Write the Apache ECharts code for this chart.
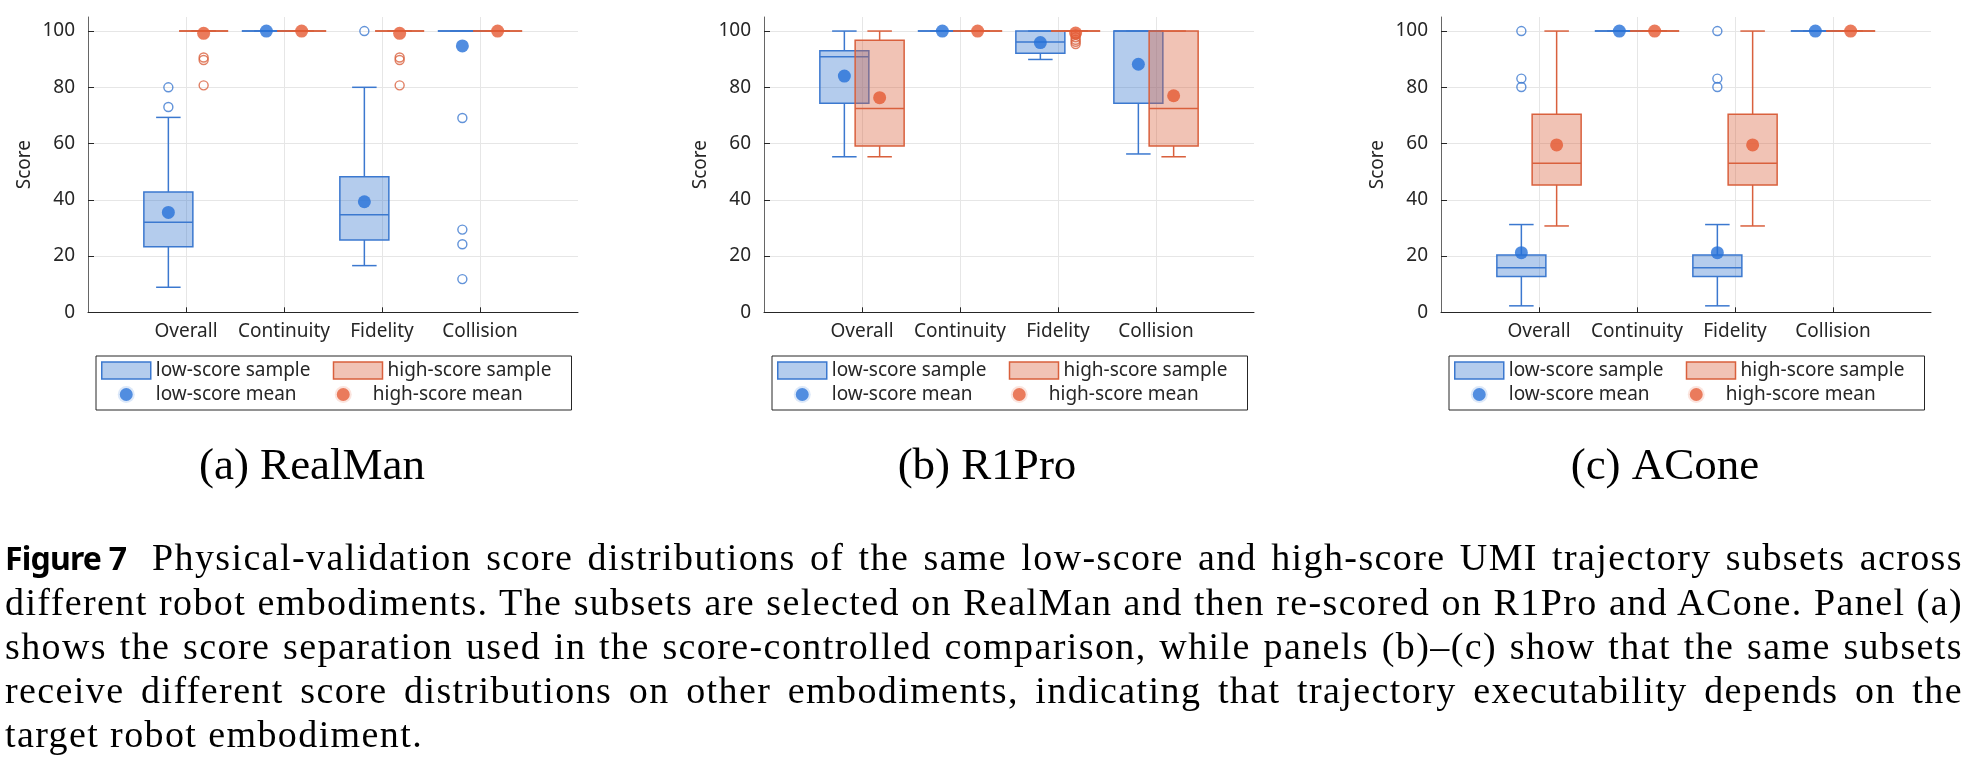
<!DOCTYPE html>
<html>
<head>
<meta charset="utf-8">
<script src="https://cdn.jsdelivr.net/npm/echarts@6/dist/echarts.min.js"></script>
<style>
    html, body { margin: 0; padding: 0; background: #fff; }
    #chart { position: absolute; left: 0; top: 0; width: 1981px; height: 771px; }
    #caption {
        position: absolute; left: 5px; top: 535px; width: 1958px;
        font-family: 'Liberation Serif', serif; font-size: 38px; line-height: 44px;
        letter-spacing: 1.4px; color: #000;
    }
    #caption div { text-align: justify; text-align-last: justify; }
    #caption div.last { text-align-last: left; }
    #caption .fig {
        display: inline-block; width: 147px; letter-spacing: -0.8px; text-align: left; text-align-last: left;
        font-family: 'Noto Sans', sans-serif; font-weight: bold; font-size: 32px;
    }
</style>
</head>
<body>
<div id="chart"></div>
<div id="caption">
    <div><span class="fig">Figure 7</span>Physical-validation score distributions of the same low-score and high-score UMI trajectory subsets across</div>
    <div>different robot embodiments. The subsets are selected on RealMan and then re-scored on R1Pro and ACone. Panel (a)</div>
    <div>shows the score separation used in the score-controlled comparison, while panels (b)–(c) show that the same subsets</div>
    <div>receive different score distributions on other embodiments, indicating that trajectory executability depends on the</div>
    <div class="last">target robot embodiment.</div>
</div>
<script>
var categories = ['Overall', 'Continuity', 'Fidelity', 'Collision'];
var panelNames = ['(a) RealMan', '(b) R1Pro', '(c) ACone'];
var yTicks = [0, 20, 40, 60, 80, 100];

// box stats: [category, lower whisker, Q1, median, Q3, upper whisker]
var realmanLowBox = [[1, 8.9, 23.3, 32.0, 42.8, 69.3], [2, 100, 100, 100, 100, 100], [3, 16.6, 25.7, 34.7, 48.2, 80.0], [4, 100, 100, 100, 100, 100]];
var realmanHighBox = [[1, 100, 100, 100, 100, 100], [2, 100, 100, 100, 100, 100], [3, 100, 100, 100, 100, 100], [4, 100, 100, 100, 100, 100]];
var realmanLowMean = [35.5, 100, 39.3, 94.7];
var realmanHighMean = [99.2, 100, 99.2, 100];
var realmanLowOutliers = [[1, 80.0], [1, 73.0], [3, 100], [4, 69.1], [4, 29.4], [4, 24.2], [4, 11.8]];
var realmanHighOutliers = [[1, 90.6], [1, 89.7], [1, 80.7], [3, 90.6], [3, 89.7], [3, 80.7]];

var r1proLowBox = [[1, 55.3, 74.3, 90.9, 93.0, 100], [2, 100, 100, 100, 100, 100], [3, 89.9, 92.1, 96.1, 100, 100], [4, 56.3, 74.3, 100, 100, 100]];
var r1proHighBox = [[1, 55.3, 59.1, 72.5, 96.7, 100], [2, 100, 100, 100, 100, 100], [3, 100, 100, 100, 100, 100], [4, 55.3, 59.1, 72.5, 100, 100]];
var r1proLowMean = [84.0, 100, 95.9, 88.2];
var r1proHighMean = [76.3, 100, 99.3, 77.0];
var r1proLowOutliers = [];
var r1proHighOutliers = [[3, 98.8], [3, 97.8], [3, 96.9], [3, 96.2], [3, 95.4]];

var aconeLowBox = [[1, 2.3, 12.7, 15.8, 20.4, 31.2], [2, 100, 100, 100, 100, 100], [3, 2.3, 12.7, 15.8, 20.4, 31.2], [4, 100, 100, 100, 100, 100]];
var aconeHighBox = [[1, 30.7, 45.3, 53.0, 70.4, 100], [2, 100, 100, 100, 100, 100], [3, 30.7, 45.3, 53.0, 70.4, 100], [4, 100, 100, 100, 100, 100]];
var aconeLowMean = [21.2, 100, 21.2, 100];
var aconeHighMean = [59.5, 100, 59.5, 100];
var aconeLowOutliers = [[1, 100], [1, 83.1], [1, 80.1], [3, 100], [3, 83.1], [3, 80.1]];
var aconeHighOutliers = [];

var panels = [
    {low: realmanLowBox, high: realmanHighBox, lowMean: realmanLowMean, highMean: realmanHighMean, lowOut: realmanLowOutliers, highOut: realmanHighOutliers},
    {low: r1proLowBox, high: r1proHighBox, lowMean: r1proLowMean, highMean: r1proHighMean, lowOut: r1proLowOutliers, highOut: r1proHighOutliers},
    {low: aconeLowBox, high: aconeHighBox, lowMean: aconeLowMean, highMean: aconeHighMean, lowOut: aconeLowOutliers, highOut: aconeHighOutliers}
];

var blueEdge = '#3b78cf', blueFill = 'rgba(59,120,207,0.38)', blueDot = '#2670d8';
var redEdge = '#d9603d', redFill = 'rgba(217,96,61,0.38)', redDot = '#e55a33';
var textColor = '#262626';
var gridLeft = [88, 764, 1441];
var legendLeft = [96, 772, 1449];
var captionX = [307, 982, 1660];
var OFFSET = 0.18, HALF = 0.25, CAP = 0.125;

function boxRenderer(offset, edge, fill) {
    return function (params, api) {
        var x = api.value(0) + offset;
        var left = api.coord([x - HALF, 0])[0];
        var right = api.coord([x + HALF, 0])[0];
        var capL = api.coord([x - CAP, 0])[0];
        var capR = api.coord([x + CAP, 0])[0];
        var cx = api.coord([x, 0])[0];
        var yMin = api.coord([x, api.value(1)])[1];
        var yQ1 = api.coord([x, api.value(2)])[1];
        var yMed = api.coord([x, api.value(3)])[1];
        var yQ3 = api.coord([x, api.value(4)])[1];
        var yMax = api.coord([x, api.value(5)])[1];
        var line = {stroke: edge, lineWidth: 1.5};
        return {
            type: 'group',
            children: [
                {type: 'line', shape: {x1: cx, y1: yQ1, x2: cx, y2: yMin}, style: line},
                {type: 'line', shape: {x1: cx, y1: yQ3, x2: cx, y2: yMax}, style: line},
                {type: 'line', shape: {x1: capL, y1: yMin, x2: capR, y2: yMin}, style: line},
                {type: 'line', shape: {x1: capL, y1: yMax, x2: capR, y2: yMax}, style: line},
                {type: 'rect', shape: {x: left, y: yQ3, width: right - left, height: yQ1 - yQ3},
                    style: {fill: fill, stroke: edge, lineWidth: 1.5}},
                {type: 'line', shape: {x1: left, y1: yMed, x2: right, y2: yMed}, style: line}
            ]
        };
    };
}

var grids = [], xAxes = [], yAxes = [], legends = [], titles = [], series = [];

panels.forEach(function (p, i) {
    grids.push({left: gridLeft[i], top: 17, width: 490, height: 295.3, outerBoundsMode: 'none'});
    xAxes.push({
        type: 'value', gridIndex: i, min: 0, max: 5,
        axisLine: {lineStyle: {color: textColor, width: 1}},
        axisTick: {inside: true, length: 5, customValues: [1, 2, 3, 4], lineStyle: {color: textColor}},
        axisLabel: {
            customValues: [1, 2, 3, 4], margin: 10, color: textColor,
            fontFamily: 'Noto Sans', fontSize: 19,
            formatter: function (v) { return categories[v - 1] || ''; }
        },
        splitLine: {show: true, lineStyle: {color: '#e6e6e6', width: 1}}
    });
    yAxes.push({
        type: 'value', gridIndex: i, min: 0, max: 105,
        name: 'Score', nameLocation: 'middle', nameGap: 54,
        nameTextStyle: {fontFamily: 'Noto Sans', fontSize: 19, color: textColor},
        axisLine: {show: true, lineStyle: {color: '#666', width: 1}},
        axisTick: {show: true, inside: true, length: 6, customValues: yTicks, lineStyle: {color: textColor}},
        axisLabel: {customValues: yTicks, margin: 13, color: textColor, fontFamily: 'Noto Sans', fontSize: 19},
        splitLine: {show: true, lineStyle: {color: '#e6e6e6', width: 1}}
    });
    legends.push({
        left: legendLeft[i], top: 356, width: 470, orient: 'horizontal',
        padding: [5, 12, 5, 5], itemGap: 5, itemWidth: 49, itemHeight: 17,
        borderColor: textColor, borderWidth: 1, selectedMode: false,
        textStyle: {fontFamily: 'Noto Sans', fontSize: 19, color: textColor, width: 172, lineHeight: 18},
        data: [
            {name: 'low-score sample', icon: 'rect', itemStyle: {color: blueFill, borderColor: blueEdge, borderWidth: 1.5}},
            {name: 'high-score sample', icon: 'rect', itemStyle: {color: redFill, borderColor: redEdge, borderWidth: 1.5}},
            {name: 'low-score mean', icon: 'circle', itemStyle: {color: blueDot, borderColor: '#fff', borderWidth: 4}},
            {name: 'high-score mean', icon: 'circle', itemStyle: {color: redDot, borderColor: '#fff', borderWidth: 4}}
        ]
    });
    titles.push({
        text: panelNames[i], left: captionX[i], top: 440, textAlign: 'center',
        textStyle: {fontFamily: 'Liberation Serif', fontSize: 45, fontWeight: 'normal', color: '#000', lineHeight: 45}
    });

    series.push({
        name: 'low-score sample', type: 'custom', xAxisIndex: i, yAxisIndex: i,
        renderItem: boxRenderer(-OFFSET, blueEdge, blueFill),
        itemStyle: {color: blueFill, borderColor: blueEdge},
        encode: {x: 0, y: [1, 2, 3, 4, 5]}, data: p.low
    });
    series.push({
        name: 'high-score sample', type: 'custom', xAxisIndex: i, yAxisIndex: i,
        renderItem: boxRenderer(OFFSET, redEdge, redFill),
        itemStyle: {color: redFill, borderColor: redEdge},
        encode: {x: 0, y: [1, 2, 3, 4, 5]}, data: p.high
    });
    series.push({
        name: 'low-score outliers', type: 'scatter', xAxisIndex: i, yAxisIndex: i,
        symbolSize: 9, itemStyle: {color: 'rgba(0,0,0,0)', borderColor: blueEdge, borderWidth: 1.4},
        data: p.lowOut.map(function (d) { return [d[0] - OFFSET, d[1]]; })
    });
    series.push({
        name: 'high-score outliers', type: 'scatter', xAxisIndex: i, yAxisIndex: i,
        symbolSize: 9, itemStyle: {color: 'rgba(0,0,0,0)', borderColor: redEdge, borderWidth: 1.4},
        data: p.highOut.map(function (d) { return [d[0] + OFFSET, d[1]]; })
    });
    series.push({
        name: 'low-score mean', type: 'scatter', xAxisIndex: i, yAxisIndex: i,
        symbolSize: 13, itemStyle: {color: blueDot},
        data: p.lowMean.map(function (v, k) { return [k + 1 - OFFSET, v]; })
    });
    series.push({
        name: 'high-score mean', type: 'scatter', xAxisIndex: i, yAxisIndex: i,
        symbolSize: 13, itemStyle: {color: redDot},
        data: p.highMean.map(function (v, k) { return [k + 1 + OFFSET, v]; })
    });
});

var chart = echarts.init(document.getElementById('chart'));
chart.setOption({
    animation: false,
    title: titles,
    legend: legends,
    grid: grids,
    xAxis: xAxes,
    yAxis: yAxes,
    series: series
});
</script>
</body>
</html>
